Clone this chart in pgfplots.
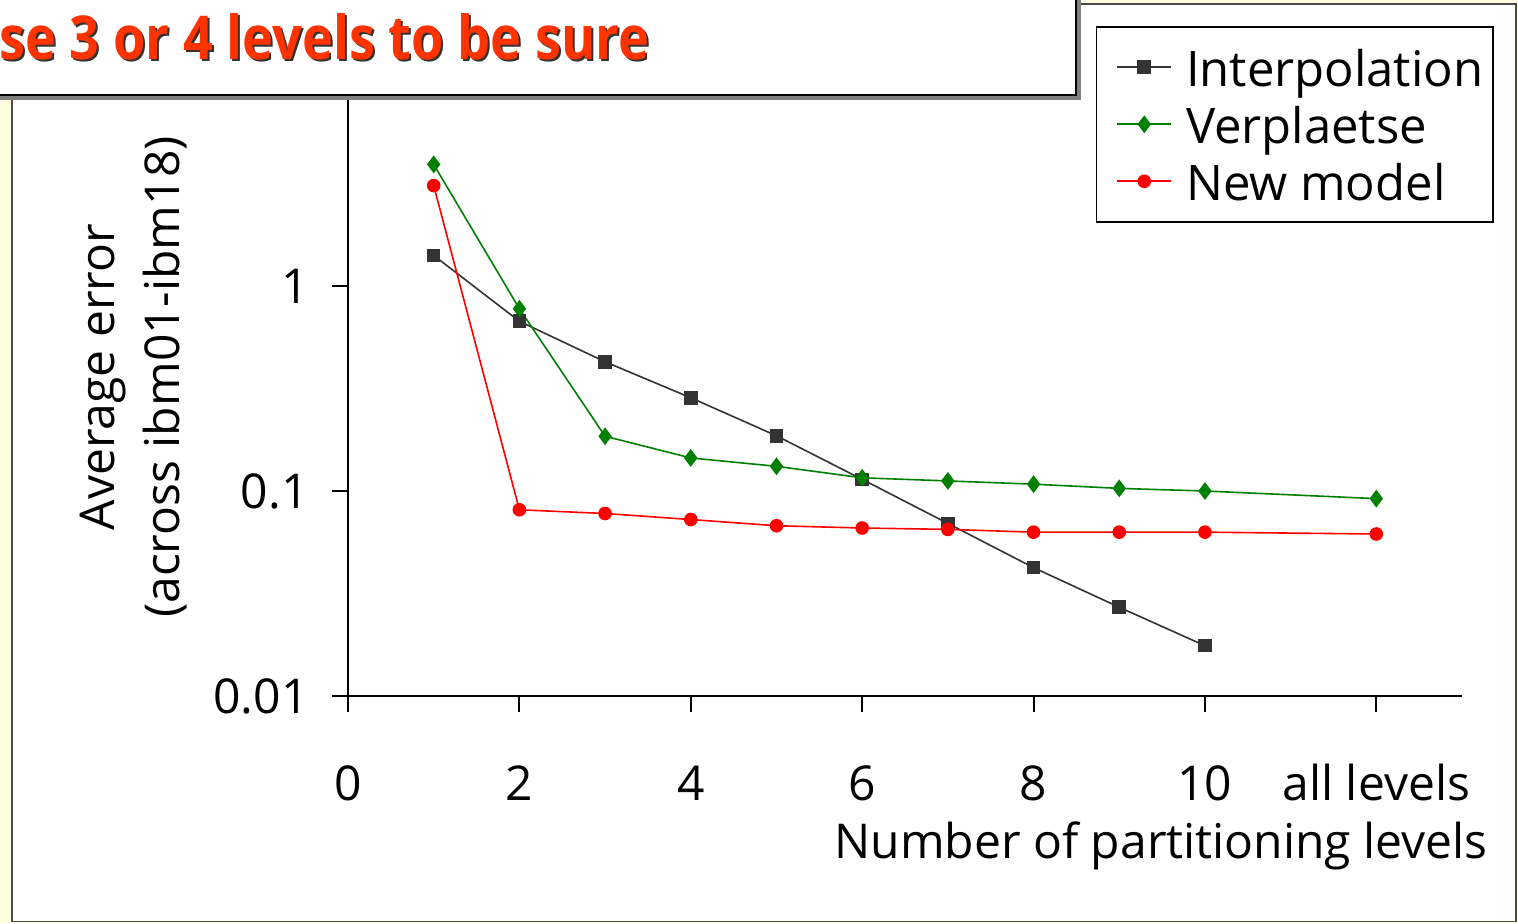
\documentclass[border=0pt]{standalone}
\usepackage{fontspec}
\setmainfont{Open Sans}
\usepackage{graphicx}
\usepackage{pgfplots}
\pgfplotsset{compat=1.18}
\definecolor{interp}{HTML}{333333}
\definecolor{verp}{HTML}{008000}
\definecolor{newm}{HTML}{FF0000}
\definecolor{slidebg}{HTML}{FFFFE0}
\definecolor{titlered}{HTML}{FF3300}
\definecolor{shadowgray}{HTML}{808080}
\newcommand{\bigfont}{\fontsize{24}{28}\selectfont}
\begin{document}
\begin{tikzpicture}
\useasboundingbox (0,0) rectangle (759pt,461.5pt);
\clip (0,0) rectangle (759pt,461.5pt);
\begin{scope}[x=0.5pt,y=-0.5pt,yshift=461.5pt]
\fill[slidebg] (0,0) rectangle (1518,923);
\draw[fill=white, draw=black!70, line width=0.75pt] (12,4) rectangle (1516,921.5);
\end{scope}
\begin{axis}[
  at={(174pt,113.5pt)}, anchor=south west,
  scale only axis, width=557pt, height=307.5pt,
  xmin=0, xmax=13, ymin=0.01, ymax=10, ymode=log,
  axis x line=bottom, axis y line=left,
  axis line style={-, line width=1pt, black},
  xtick={0,2,4,6,8,10,12}, xticklabels={0,2,4,6,8,10,all levels},
  ytick={0.01,0.1,1}, yticklabels={0.01,0.1,1},
  yminorticks=false, xminorticks=false,
  tick align=outside, major tick length=8pt,
  tick style={line width=1pt, black},
  /pgf/number format/assume math mode=true,
  tick label style={font=\bigfont},
  xticklabel style={anchor=base, yshift=-44.5pt},
  yticklabel style={anchor=east, inner sep=0pt, xshift=-11.5pt},
  xlabel={Number of partitioning levels},
  xlabel style={at={(axis description cs:1.0235,-0.2439)}, anchor=east, inner sep=0pt, font=\bigfont},
  ylabel={Average error\\(across ibm01-ibm18)},
  ylabel style={at={(axis description cs:-0.1925,0.5187)}, anchor=center, align=center, inner sep=0pt, font=\fontsize{24}{32.5}\selectfont},
  legend style={at={(1.0287,1.0894)}, anchor=north east, draw=black, line width=0.75pt,
    font=\fontsize{24.5}{28}\selectfont, inner xsep=4pt, inner ysep=7pt, row sep=2pt,
    nodes={inner sep=1pt, text height=22pt, text depth=2.5pt},
    /tikz/every odd column/.append style={column sep=6pt}},
  legend cell align=left,
  legend image code/.code={\path (0pt,0pt) (33pt,0pt);\draw[mark repeat=2,mark phase=2,#1] plot coordinates {(6pt,0pt)(19.5pt,0pt)(33pt,0pt)};},
]
\addplot[interp, line width=0.8pt, mark=square*, mark size=3pt, mark options={solid, fill=interp}]
  coordinates {(1,1.41)(2,0.673)(3,0.427)(4,0.285)(5,0.186)(6,0.114)(7,0.0695)(8,0.0423)(9,0.0271)(10,0.0176)};
\addlegendentry{Interpolation}
\addplot[verp, line width=0.8pt, mark=diamond*, mark size=3.8pt, mark options={solid, fill=verp}]
  coordinates {(1,3.92)(2,0.775)(3,0.185)(4,0.145)(5,0.132)(6,0.116)(7,0.112)(8,0.108)(9,0.103)(10,0.100)(12,0.0918)};
\addlegendentry{Verplaetse}
\addplot[newm, line width=0.8pt, mark=*, mark size=3pt, mark options={solid, fill=newm}]
  coordinates {(1,3.09)(2,0.081)(3,0.0777)(4,0.0726)(5,0.0677)(6,0.066)(7,0.065)(8,0.063)(9,0.063)(10,0.063)(12,0.0617)};
\addlegendentry{New model}
\end{axis}
\begin{scope}[x=0.5pt,y=-0.5pt,yshift=461.5pt]
\fill[shadowgray] (-20,-20) rectangle (1081,100);
\draw[fill=white, line width=0.75pt] (-20,-20) rectangle (1076,95);
\node[anchor=base west, inner sep=0pt, text=black!80] at (1,62) {\resizebox{325pt}{23pt}{\bfseries se 3 or 4 levels to be sure}};
\node[anchor=base west, inner sep=0pt, text=titlered] at (-1,60) {\resizebox{325pt}{23pt}{\bfseries se 3 or 4 levels to be sure}};
\end{scope}
\end{tikzpicture}
\end{document}
